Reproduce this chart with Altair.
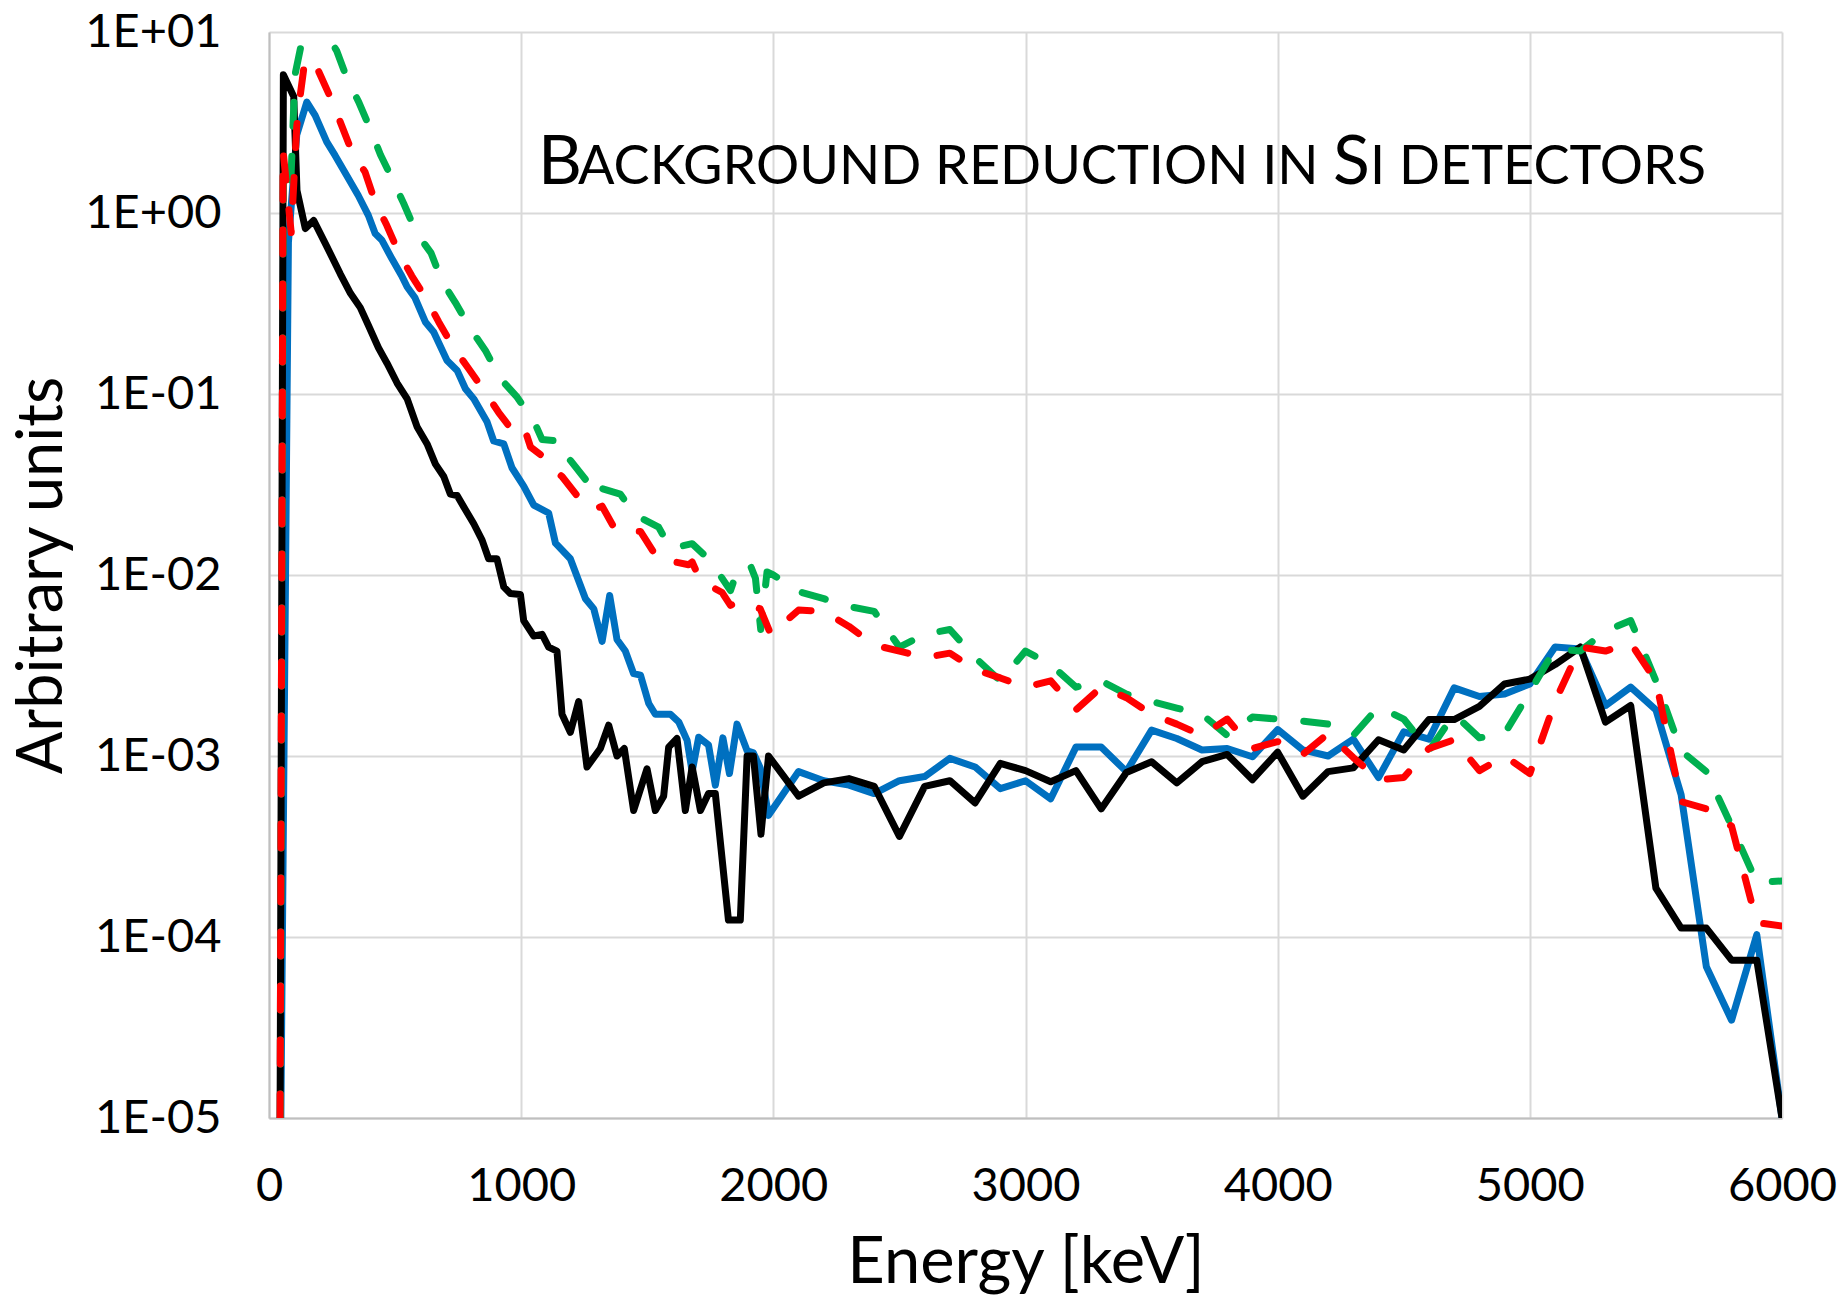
import altair as alt
import pandas as pd

# ---------------- data ----------------
black_e = [44, 57, 98, 111, 144, 177, 230, 283, 323, 362, 394, 434, 468, 508, 548, 587, 627, 660,
           693, 719, 746, 779, 812, 845, 871, 904, 931, 957, 997, 1010, 1050, 1083, 1109, 1142,
           1162, 1195, 1228, 1261, 1314, 1347, 1380, 1409, 1446, 1499, 1532, 1565, 1585, 1618,
           1651, 1678, 1711, 1743, 1770, 1822, 1869, 1896, 1921, 1951, 1981,
           2100, 2200, 2300, 2400, 2500, 2600, 2700, 2800, 2900, 3000, 3100, 3200, 3300, 3400,
           3500, 3600, 3700, 3800, 3900, 4000, 4100, 4200, 4300, 4400, 4500, 4600, 4700, 4800,
           4900, 5000, 5100, 5200, 5300, 5400, 5500, 5600, 5700, 5800, 5900, 6000]
black_v = [1e-5, 5.8, 4.4, 1.33, 0.82, 0.91, 0.65, 0.46, 0.36, 0.30, 0.24, 0.18, 0.148, 0.115, 0.094,
           0.066, 0.053, 0.041, 0.035, 0.028, 0.0275, 0.0229, 0.0192, 0.0156, 0.0123, 0.0123,
           0.0086, 0.0079, 0.0078, 0.0056, 0.0046, 0.0047, 0.0040, 0.0038, 0.0017, 0.00135,
           0.0020, 0.00087, 0.0011, 0.00148, 0.0010, 0.0011, 0.0005, 0.00085, 0.0005, 0.0006,
           0.00112, 0.00125, 0.0005, 0.00087, 0.0005, 0.00062, 0.00062, 0.000124, 0.000124,
           0.001, 0.001, 0.00037, 0.001,
           0.0006, 0.00071, 0.00075, 0.00068, 0.00036, 0.00068, 0.00073, 0.00055, 0.00091,
           0.00083, 0.00072, 0.00083, 0.00051, 0.00081, 0.00093, 0.00071, 0.00093, 0.00102,
           0.00074, 0.00105, 0.0006, 0.00082, 0.00086, 0.00123, 0.00108, 0.00159, 0.00159,
           0.00188, 0.0025, 0.00266, 0.0032, 0.0040, 0.00154, 0.0019, 0.000186, 0.000112,
           0.000112, 0.0000745, 0.0000745, 1e-5]

blue_e = [47, 77, 110, 150, 183, 229, 262, 315, 354, 394, 421, 447, 487, 526, 548, 579, 620, 653,
          706, 746, 779, 812, 865, 891, 931, 964, 1010, 1050, 1109, 1136, 1195, 1255, 1288, 1321,
          1351, 1380, 1413, 1446, 1473, 1506, 1532, 1592, 1625, 1658, 1678, 1704, 1743, 1770,
          1800, 1826, 1856, 1896, 1921, 1948, 1981,
          2100, 2200, 2300, 2400, 2500, 2600, 2700, 2800, 2900, 3000, 3100, 3200, 3300, 3400,
          3500, 3600, 3700, 3800, 3900, 4000, 4100, 4200, 4300, 4400, 4500, 4600, 4700, 4800,
          4900, 5000, 5100, 5200, 5300, 5400, 5500, 5600, 5700, 5800, 5900, 6000]
blue_v = [1e-5, 0.69, 2.7, 4.1, 3.46, 2.47, 2.08, 1.55, 1.25, 0.97, 0.77, 0.71, 0.56, 0.45, 0.39,
          0.34, 0.25, 0.22, 0.153, 0.135, 0.107, 0.094, 0.07, 0.055, 0.053, 0.039, 0.031, 0.0243,
          0.022, 0.015, 0.0123, 0.0074, 0.0065, 0.0043, 0.0077, 0.0044, 0.0038, 0.00285, 0.0028,
          0.00195, 0.0017, 0.0017, 0.00154, 0.00122, 0.00082, 0.00127, 0.00115, 0.00069,
          0.00126, 0.0008, 0.0015, 0.00107, 0.00104, 0.00086, 0.00047,
          0.00082, 0.00073, 0.00069, 0.00062, 0.00073, 0.00077, 0.00097, 0.00087, 0.00066,
          0.00073, 0.00058, 0.00112, 0.00112, 0.00082, 0.00139, 0.00125, 0.00108, 0.0011,
          0.00099, 0.0014, 0.00108, 0.001, 0.00124, 0.00076, 0.00136, 0.00124, 0.00238,
          0.00213, 0.0022, 0.0025, 0.0040, 0.0039, 0.0019, 0.0024, 0.0018, 0.00061,
          0.0000684, 0.0000347, 0.000103, 1e-5]

red_e = [44, 56, 88, 110, 125, 143, 196, 242, 282, 328, 381, 421, 467, 513, 566, 627, 673, 732,
         792, 858, 911, 984, 1017, 1037, 1096, 1129, 1162, 1235, 1268, 1288, 1321, 1374, 1473,
         1532, 1559, 1578, 1611, 1664, 1678, 1711, 1797, 1830, 1869, 1948, 1990,
         2100, 2200, 2300, 2400, 2500, 2600, 2700, 2800, 2900, 3000, 3100, 3200, 3300, 3400,
         3500, 3600, 3700, 3800, 3900, 4000, 4100, 4200, 4300, 4400, 4500, 4600, 4700, 4800,
         4900, 5000, 5100, 5200, 5300, 5400, 5500, 5600, 5700, 5800, 5900, 6000]
red_v = [1e-5, 2.2, 0.78, 3.0, 4.6, 7.1, 6.1, 4.4, 3.2, 2.2, 1.68, 1.15, 0.855, 0.61, 0.45, 0.33,
         0.25, 0.18, 0.138, 0.102, 0.079, 0.058, 0.062, 0.051, 0.044, 0.038, 0.035, 0.026,
         0.0248, 0.023, 0.024, 0.0177, 0.0174, 0.0129, 0.013, 0.012, 0.0118, 0.0114, 0.0118,
         0.0093, 0.008, 0.0068, 0.0072, 0.0065, 0.0047,
         0.0064, 0.0063, 0.0052, 0.0041, 0.0038, 0.0035, 0.0037, 0.0030, 0.0027, 0.0024,
         0.0026, 0.0018, 0.0024, 0.0021, 0.0017, 0.0015, 0.0013, 0.0016, 0.0011, 0.0012,
         0.00102, 0.00133, 0.00098, 0.00074, 0.00076, 0.0011, 0.00123, 0.00083, 0.001,
         0.0008, 0.002, 0.004, 0.0038, 0.0042, 0.0026, 0.00056, 0.00051, 0.00041, 0.00012,
         0.000115]

green_e = [45, 57, 85, 103, 123, 150, 180, 222, 268, 310, 356, 402, 442, 495, 534, 584, 643, 686,
           739, 798, 858, 917, 984, 1050, 1083, 1149, 1168, 1195, 1268, 1288, 1321, 1393, 1453,
           1545, 1592, 1678, 1750, 1830, 1850, 1880, 1909, 1929, 1950, 1975, 2000,
           2100, 2200, 2300, 2400, 2500, 2600, 2700, 2800, 2900, 3000, 3100, 3200, 3300, 3400,
           3500, 3600, 3700, 3800, 3900, 4000, 4100, 4200, 4300, 4400, 4500, 4600, 4700, 4800,
           4900, 5000, 5100, 5200, 5300, 5400, 5500, 5600, 5700, 5800, 5900, 6000]
green_v = [1e-5, 1.6, 1.3, 5.8, 7.9, 12.0, 13.0, 10.0, 7.9, 5.5, 4.1, 2.9, 2.1, 1.48, 1.13, 0.78,
           0.60, 0.42, 0.32, 0.23, 0.174, 0.122, 0.096, 0.071, 0.056, 0.055, 0.054, 0.043,
           0.032, 0.0275, 0.030, 0.028, 0.0214, 0.0184, 0.014, 0.0149, 0.012, 0.0082, 0.0099,
           0.0113, 0.0113, 0.0096, 0.005, 0.0104, 0.0100,
           0.0081, 0.0074, 0.0067, 0.0063, 0.0040, 0.0047, 0.0050, 0.0035, 0.0026, 0.0038,
           0.0032, 0.0024, 0.0026, 0.0022, 0.0020, 0.00184, 0.0017, 0.0013, 0.00164, 0.0016,
           0.00156, 0.0015, 0.0013, 0.00187, 0.0016, 0.00107, 0.0017, 0.00126, 0.00133,
           0.00226, 0.0039, 0.0038, 0.0049, 0.0056, 0.0026, 0.00107, 0.00082, 0.00041,
           0.0002, 0.000204]

x_ticks = [0, 1000, 2000, 3000, 4000, 5000, 6000]
y_ticks = [1e-5, 1e-4, 1e-3, 1e-2, 1e-1, 1, 10]

series = [
    ("blue", blue_e, blue_v, "#0070C0", None),
    ("black", black_e, black_v, "#000000", None),
    ("green", green_e, green_v, "#00B050", [24, 30]),
    ("red", red_e, red_v, "#FF0000", [24, 30]),
]

FONT = "Lato"
W, H = 1513, 1086

xscale = alt.Scale(domain=[0, 6000], nice=False, zero=False)
yscale = alt.Scale(type="log", domain=[1e-5, 10], nice=False)

xaxis = alt.Axis(values=x_ticks, format="d", title="Energy [keV]", grid=True,
                 labelFontSize=47, labelFont=FONT, labelColor="#000000", labelPadding=45,
                 titleFontSize=65, titleFont=FONT, titleFontWeight="normal",
                 titleColor="#000000", titlePadding=22, tickSize=0,
                 gridColor="#d9d9d9", gridWidth=2, domainColor="#bfbfbf", domainWidth=2,
                 labelFlush=False)
yaxis = alt.Axis(values=y_ticks, title="Arbitrary units", grid=True,
                 labelExpr="'1E' + (datum.value >= 1 ? '+' : '-') + '0' + abs(round(log(datum.value)/LN10))",
                 labelFontSize=47, labelFont=FONT, labelColor="#000000", labelPadding=48,
                 titleFontSize=63, titleFont=FONT, titleFontWeight="normal",
                 titleColor="#000000", titlePadding=10, tickSize=0,
                 gridColor="#d9d9d9", gridWidth=2, domainColor="#bfbfbf", domainWidth=2,
                 labelFlush=False)

layers = []
for i, (name, es, vs, col, dash) in enumerate(series):
    df = pd.DataFrame({"E": es, "v": vs, "s": name})
    kw = dict(color=col, strokeWidth=7, strokeJoin="round", clip=True)
    if dash:
        kw["strokeDash"] = dash
        kw["strokeCap"] = "round"
    if i == 0:
        enc = dict(x=alt.X("E:Q", scale=xscale, axis=xaxis),
                   y=alt.Y("v:Q", scale=yscale, axis=yaxis))
    else:
        enc = dict(x=alt.X("E:Q", scale=xscale), y=alt.Y("v:Q", scale=yscale))
    layers.append(alt.Chart(df).mark_line(**kw).encode(**enc))

# title in small capitals
title_parts = [("B", 68, 269), ("ACKGROUND REDUCTION IN", 54, 309),
               ("S", 68, 1064), ("I DETECTORS", 54, 1101)]
tdf = pd.DataFrame({"t": [0]})
for txt, size, px in title_parts:
    layers.append(alt.Chart(tdf).mark_text(text=txt, font=FONT, fontSize=size, align="left",
                                           baseline="alphabetic", color="#000000")
                  .encode(x=alt.value(px), y=alt.value(152)))

chart = alt.layer(*layers).properties(
    width=W, height=H,
    autosize=alt.AutoSizeParams(type="none"),
    padding={"left": 269, "top": 32, "right": 57, "bottom": 178},
    background="white",
).configure_view(stroke=None)

chart.save("out.html", embed_options={"renderer": "svg", "actions": False})
